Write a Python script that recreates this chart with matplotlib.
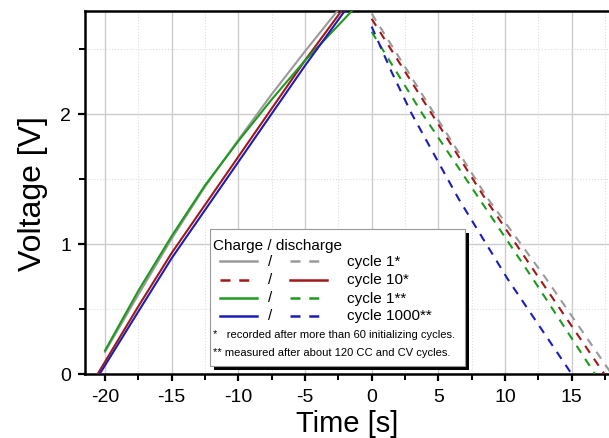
#!/usr/bin/env python3
"""Charge / discharge voltage curves of a cell for several cycles."""

import matplotlib
matplotlib.use("Agg")
import matplotlib.pyplot as plt
from matplotlib.lines import Line2D
from matplotlib.patches import Rectangle
from matplotlib.ticker import MultipleLocator

plt.rcParams['font.family'] = ['Liberation Sans', 'DejaVu Sans']
plt.rcParams['axes.unicode_minus'] = False

# charge curves (time before end of charge, s / voltage, V)
t_chg_c1 = [-20.0, -17.5, -15.0, -12.5, -10.0, -7.5, -5.0, -2.5]
v_chg_c1 = [0.17, 0.61, 1.04, 1.44, 1.80, 2.15, 2.48, 2.80]
t_chg_c10 = [-20.55, -17.5, -15.0, -12.5, -10.0, -7.5, -5.0, -2.2]
v_chg_c10 = [0.0, 0.52, 0.93, 1.30, 1.67, 2.04, 2.41, 2.80]
t_chg_c1b = [-20.0, -17.5, -15.0, -12.5, -10.0, -7.5, -5.0, -2.5, -1.4]
v_chg_c1b = [0.18, 0.64, 1.06, 1.45, 1.79, 2.11, 2.41, 2.68, 2.80]
t_chg_c1000 = [-20.4, -17.5, -15.0, -12.5, -10.0, -7.5, -5.0, -1.95]
v_chg_c1000 = [0.0, 0.48, 0.89, 1.26, 1.63, 2.00, 2.37, 2.80]

# discharge curves
t_dis_c1 = [0.0, 4.7, 8.7, 13.1, 18.0]
v_dis_c1 = [2.77, 2.0, 1.35, 0.73, 0.0]
t_dis_c10 = [0.0, 4.5, 8.5, 12.6, 17.45]
v_dis_c10 = [2.73, 2.0, 1.35, 0.73, 0.0]
t_dis_c1b = [0.0, 3.8, 12.1, 16.75]
v_dis_c1b = [2.63, 2.0, 0.73, 0.0]
t_dis_c1000 = [0.0, 1.5, 3.0, 6.5, 10.2, 15.0]
v_dis_c1000 = [2.67, 2.32, 2.0, 1.35, 0.73, 0.0]

labels = ['cycle 1*', 'cycle 10*', 'cycle 1**', 'cycle 1000**']
colors = ['#9a9a9a', '#a01818', '#1e9a1e', '#1c1cb8']
notes = ['*   recorded after more than 60 initializing cycles.',
         '** measured after about 120 CC and CV cycles.']

W, H = 609, 439
fig = plt.figure(figsize=(W / 100, H / 100), dpi=100)
ax = fig.add_axes([85 / W, 1 - 375 / H, 524 / W, 363 / H])

dash = (0, (4, 3.5))
charge = [(t_chg_c1, v_chg_c1), (t_chg_c10, v_chg_c10),
          (t_chg_c1b, v_chg_c1b), (t_chg_c1000, v_chg_c1000)]
discharge = [(t_dis_c1, v_dis_c1), (t_dis_c10, v_dis_c10),
             (t_dis_c1b, v_dis_c1b), (t_dis_c1000, v_dis_c1000)]
for (tc, vc), (td, vd), col in zip(charge, discharge, colors):
    ax.plot(tc, vc, color=col, lw=1.5, zorder=3)
    ax.plot(td, vd, color=col, lw=1.5, ls=dash, zorder=3)

ax.set_xlim(-21.5, 17.8)
ax.set_ylim(0, 2.79)
ax.xaxis.set_major_locator(MultipleLocator(5))
ax.xaxis.set_minor_locator(MultipleLocator(2.5))
ax.yaxis.set_major_locator(MultipleLocator(1))
ax.yaxis.set_minor_locator(MultipleLocator(0.5))
ax.grid(True, which='major', color='#cccccc', lw=1.0, ls='-')
ax.grid(True, which='minor', color='#dddddd', lw=0.8, ls=':')
ax.set_axisbelow(True)

for s in ['left', 'top', 'bottom']:
    ax.spines[s].set_linewidth(1.8)
ax.spines['right'].set_visible(False)
ax.tick_params(which='major', direction='out', length=5, width=1.6,
               labelsize=14, pad=5)
ax.tick_params(which='minor', direction='out', length=4, width=1.4)

ax.set_xlabel('Time [s]', fontsize=21, labelpad=3)
ax.set_ylabel('Voltage [V]', fontsize=23, labelpad=9)


def fp(x, y):
    """pixel position -> figure fraction"""
    return x / W, 1 - y / H


# hand-made legend box with shadow
fig.add_artist(Rectangle(fp(214, 371), 255 / W, 137 / H, transform=fig.transFigure,
                         facecolor='black', edgecolor='none', zorder=4))
fig.add_artist(Rectangle(fp(210, 367), 255 / W, 137 / H, transform=fig.transFigure,
                         facecolor='white', edgecolor='#999999', lw=0.8, zorder=5))
fig.text(*fp(213, 246), 'Charge / discharge', fontsize=11, va='center',
         zorder=6)
styles = [('-', dash), (dash, '-'), ('-', dash), ('-', dash)]
rows = [262, 280.5, 298.5, 316.5]
for y, lab, col, (s1, s2) in zip(rows, labels, colors, styles):
    for x0, x1, st in [(220, 257, s1), (290, 327, s2)]:
        (a0, b0), (a1, b1) = fp(x0, y), fp(x1, y)
        fig.add_artist(Line2D([a0, a1], [b0, b1], transform=fig.transFigure,
                              color=col, lw=1.8, ls=st, zorder=6))
    fig.text(*fp(270, y), '/', fontsize=11, va='center', ha='center', zorder=6)
    fig.text(*fp(347, y), lab, fontsize=11, va='center', zorder=6)
fig.text(*fp(213, 335), notes[0], fontsize=8, va='center', zorder=6)
fig.text(*fp(213, 353), notes[1], fontsize=8, va='center', zorder=6)

fig.savefig('out.png', dpi=100)
